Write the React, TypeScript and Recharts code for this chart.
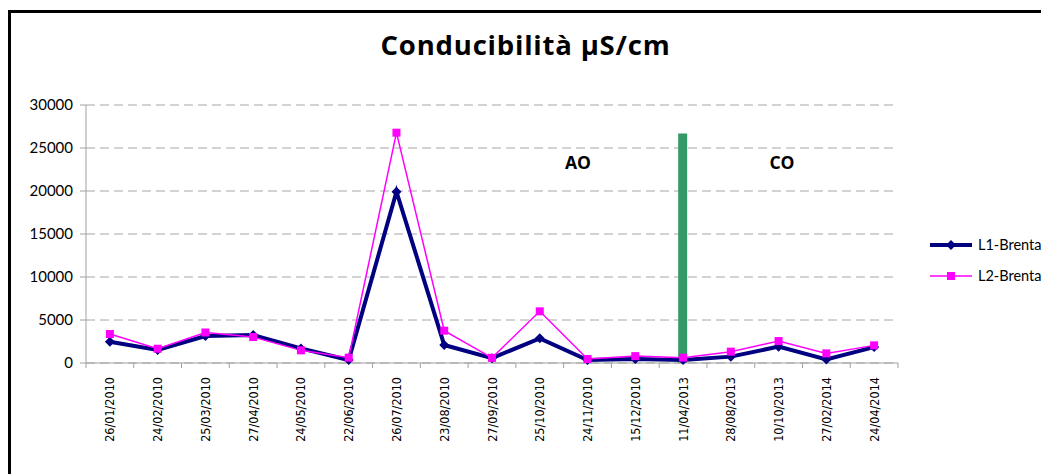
import { Bar, CartesianGrid, ComposedChart, Line, XAxis, YAxis } from "recharts";

const dates = [
  "26/01/2010", "24/02/2010", "25/03/2010", "27/04/2010", "24/05/2010", "22/06/2010",
  "26/07/2010", "23/08/2010", "27/09/2010", "25/10/2010", "24/11/2010", "15/12/2010",
  "11/04/2013", "28/08/2013", "10/10/2013", "27/02/2014", "24/04/2014",
];
const l1Brenta = [2480, 1510, 3130, 3250, 1700, 350, 19920, 2090, 560, 2870, 350, 460, 350, 740, 1900, 420, 1850];
const l2Brenta = [3370, 1660, 3550, 3020, 1470, 620, 26780, 3760, 600, 6010, 460, 800, 620, 1320, 2550, 1120, 2050];
// green separator between AO and CO periods, only on 11/04/2013
const separator = [null, null, null, null, null, null, null, null, null, null, null, null, 26700, null, null, null, null];
const yTicks = [0, 5000, 10000, 15000, 20000, 25000, 30000];

const data = dates.map((d, i) => ({ date: d, l1: l1Brenta[i], l2: l2Brenta[i], sep: separator[i] }));

const FONT = "Lato, 'Open Sans', sans-serif";
const BOLD_FONT = "'Open Sans', Lato, sans-serif";
const NAVY = "#000080";
const PINK = "#ff00ff";

const DateTick = (props: any) => {
  const { x, y, payload, index } = props;
  const half = payload?.offset || 23.9;
  const ty = y + 14;
  return (
    <g>
      <line x1={x - half} x2={x - half} y1={y} y2={y + 5} stroke="#a0a0a0" />
      {index === dates.length - 1 && <line x1={x + half} x2={x + half} y1={y} y2={y + 5} stroke="#a0a0a0" />}
      <text
        x={x}
        y={ty}
        transform={`rotate(-90, ${x}, ${ty})`}
        textAnchor="end"
        dominantBaseline="central"
        fontSize={12.5}
        fontFamily="'Liberation Sans Narrow', 'DejaVu Sans Condensed', sans-serif"
        fill="#000"
      >
        {payload.value}
      </text>
    </g>
  );
};

const Diamond = (props: any) => {
  const { cx, cy, index } = props;
  if (cx == null || cy == null) return <g key={`d-${index}`} />;
  const s = 5;
  return <path key={`d-${index}`} d={`M${cx},${cy - s}L${cx + s},${cy}L${cx},${cy + s}L${cx - s},${cy}Z`} fill={NAVY} />;
};

const Square = (props: any) => {
  const { cx, cy, index } = props;
  if (cx == null || cy == null) return <g key={`s-${index}`} />;
  return <rect key={`s-${index}`} x={cx - 4} y={cy - 4} width={8} height={8} fill={PINK} />;
};

const LegendBox = () => (
  <div style={{ position: "absolute", left: 915, top: 216, fontFamily: FONT, fontSize: 14.5, color: "#000" }}>
    <div style={{ display: "flex", alignItems: "center", height: 31 }}>
      <svg width={52} height={14}>
        <line x1={4} x2={46} y1={7} y2={7} stroke={NAVY} strokeWidth={4} />
        <path d="M25,2L30,7L25,12L20,7Z" fill={NAVY} />
      </svg>
      <span>L1-Brenta</span>
    </div>
    <div style={{ display: "flex", alignItems: "center", height: 31 }}>
      <svg width={52} height={14}>
        <line x1={4} x2={46} y1={7} y2={7} stroke={PINK} strokeWidth={1.5} />
        <rect x={21} y={3} width={8} height={8} fill={PINK} />
      </svg>
      <span>L2-Brenta</span>
    </div>
  </div>
);

export default function App() {
  return (
    <div
      style={{
        position: "relative",
        width: 1041,
        height: 466,
        marginTop: 2,
        border: "3px solid #000",
        borderBottom: "none",
        boxSizing: "border-box",
        fontFamily: FONT,
        background: "#fff",
      }}
    >
      <div
        style={{
          position: "absolute",
          left: 0,
          right: 0,
          top: 14,
          textAlign: "center",
          fontFamily: BOLD_FONT,
          fontSize: 27.5,
          letterSpacing: 0.8,
          fontWeight: 700,
          lineHeight: "36px",
          paddingRight: 6,
        }}
      >
        Conducibilità µS/cm
      </div>
      <div style={{ position: "absolute", left: 567, top: 149, transform: "translate(-50%, -50%)", fontFamily: BOLD_FONT, fontSize: 17.5, fontWeight: 700 }}>
        AO
      </div>
      <div style={{ position: "absolute", left: 771, top: 149, transform: "translate(-50%, -50%)", fontFamily: BOLD_FONT, fontSize: 17.5, fontWeight: 700 }}>
        CO
      </div>
      <ComposedChart width={1035} height={460} data={data} margin={{ top: 92, right: 148, bottom: 10, left: 0 }}>
        <CartesianGrid vertical={false} stroke="#a6a6a6" strokeDasharray="9 5" />
        <XAxis
          dataKey="date"
          interval={0}
          height={100}
          tickSize={0}
          tickMargin={0}
          tickLine={false}
          axisLine={{ stroke: "#a0a0a0" }}
          tick={<DateTick />}
        />
        <YAxis
          domain={[0, 30000]}
          ticks={yTicks}
          width={75}
          tickSize={6}
          tickMargin={7}
          axisLine={{ stroke: "#a0a0a0" }}
          tickLine={{ stroke: "#a0a0a0" }}
          tick={{ fontSize: 15, fill: "#000", fontFamily: FONT }}
        />
        <Bar dataKey="sep" barSize={9} fill="#339966" legendType="none" isAnimationActive={false} />
        <Line
          dataKey="l1"
          name="L1-Brenta"
          stroke={NAVY}
          strokeWidth={4}
          dot={Diamond}
          activeDot={false}
          isAnimationActive={false}
        />
        <Line
          dataKey="l2"
          name="L2-Brenta"
          stroke={PINK}
          strokeWidth={1.5}
          dot={Square}
          activeDot={false}
          isAnimationActive={false}
        />
      </ComposedChart>
      <LegendBox />
    </div>
  );
}
